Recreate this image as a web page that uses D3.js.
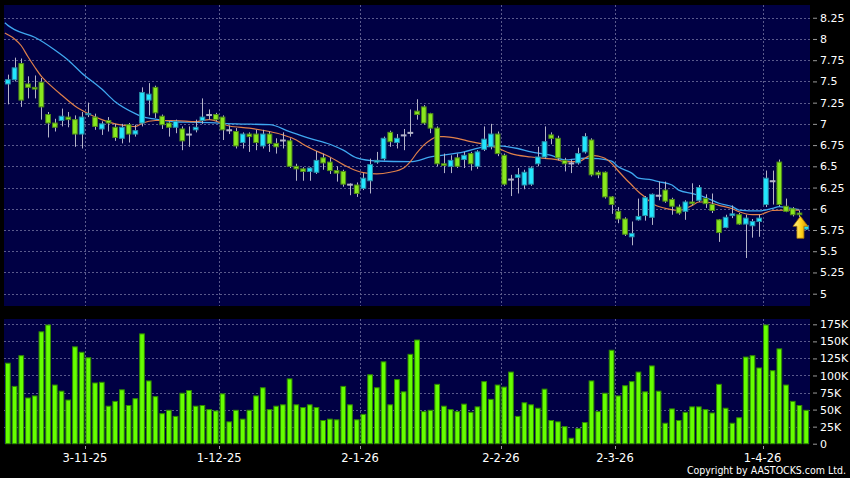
<!DOCTYPE html>
<html>
<head>
<meta charset="utf-8">
<script src="https://cdn.jsdelivr.net/npm/d3@7/dist/d3.min.js"></script>
<style>
  body { margin: 0; background: #000; }
  svg { display: block; font-family: "DejaVu Sans", sans-serif; }
</style>
</head>
<body>
<svg id="chart" width="850" height="478"></svg>
<script>
// daily candles, oldest first
const opens = [7.47,7.52,7.71,7.47,7.43,7.49,7.11,7.01,7.04,7.08,7.05,6.88,7.11,7.08,6.94,7.04,6.96,6.83,6.99,6.88,
  7.01,7.28,7.43,7.09,7.01,6.96,6.94,6.88,6.93,7.04,7.11,7.11,7.08,6.93,6.91,6.78,6.88,6.88,6.74,6.88,
  6.77,6.81,6.80,6.50,6.47,6.44,6.43,6.60,6.55,6.45,6.44,6.29,6.28,6.24,6.33,6.55,6.59,6.90,6.78,6.87,
  6.90,7.15,7.20,7.12,6.95,6.53,6.50,6.60,6.58,6.65,6.50,6.70,6.73,6.88,6.63,6.35,6.37,6.28,6.29,6.53,
  6.61,6.87,6.83,6.57,6.54,6.54,6.67,6.81,6.43,6.43,6.14,5.97,5.88,5.67,5.87,5.92,5.90,6.16,6.22,6.11,
  6.02,5.97,6.08,6.10,6.12,6.05,5.87,5.78,5.92,5.93,5.82,5.80,5.85,6.05,6.33,6.55,6.03,6.00,5.95,5.76];
const highs = [7.58,7.78,7.77,7.56,7.57,7.54,7.14,7.06,7.18,7.14,7.10,7.14,7.25,7.12,7.03,7.08,7.00,7.00,7.01,6.99,
  7.43,7.48,7.45,7.11,7.03,7.05,6.97,6.97,7.05,7.30,7.17,7.13,7.10,6.98,6.95,6.90,6.90,6.93,6.93,6.91,
  6.83,6.90,6.83,6.53,6.49,6.49,6.68,6.65,6.60,6.50,6.46,6.30,6.31,6.42,6.59,6.67,6.85,6.92,6.88,6.94,
  7.17,7.29,7.22,7.13,6.97,6.65,6.63,6.65,6.67,6.67,6.69,6.97,7.00,6.91,6.65,6.40,6.48,6.46,6.50,6.73,
  6.97,6.90,6.86,6.60,6.58,6.72,6.89,6.83,6.45,6.44,6.15,6.02,5.90,5.85,6.12,6.15,6.18,6.32,6.32,6.13,
  6.05,6.10,6.30,6.28,6.17,6.18,5.88,5.93,6.04,5.95,5.93,5.88,5.93,6.45,6.45,6.58,6.12,6.02,5.98,5.82];
const lows = [7.23,7.50,7.20,7.30,7.30,7.05,6.84,6.91,6.97,6.96,6.73,6.71,7.08,6.93,6.87,6.91,6.80,6.77,6.78,6.85,
  6.97,7.10,7.07,6.94,6.85,6.89,6.69,6.73,6.90,7.00,7.05,7.03,6.81,6.88,6.71,6.71,6.67,6.69,6.71,6.67,
  6.65,6.71,6.48,6.33,6.33,6.33,6.41,6.46,6.41,6.32,6.26,6.16,6.14,6.22,6.18,6.53,6.57,6.73,6.71,6.69,
  6.85,7.05,6.99,6.89,6.50,6.42,6.42,6.48,6.48,6.45,6.47,6.68,6.70,6.62,6.27,6.15,6.18,6.23,6.27,6.50,
  6.59,6.76,6.57,6.44,6.42,6.52,6.65,6.38,6.36,6.12,5.94,5.83,5.68,5.57,5.86,5.86,5.81,6.10,6.07,5.93,
  5.93,5.87,6.04,6.08,6.01,5.95,5.61,5.77,5.89,5.81,5.42,5.66,5.67,6.02,6.05,6.03,5.96,5.91,5.90,5.75];
const closes = [7.52,7.66,7.28,7.43,7.41,7.20,7.01,6.96,7.09,7.05,6.88,7.08,7.12,6.97,7.00,7.01,6.84,6.96,6.88,6.92,
  7.37,7.35,7.13,6.99,6.96,7.03,6.80,6.88,6.96,7.08,7.11,7.05,6.93,6.93,6.74,6.88,6.85,6.78,6.88,6.77,
  6.73,6.81,6.50,6.47,6.44,6.48,6.57,6.54,6.45,6.42,6.29,6.29,6.18,6.36,6.52,6.57,6.83,6.79,6.83,6.87,
  6.90,7.11,7.01,6.95,6.53,6.51,6.57,6.50,6.63,6.53,6.67,6.82,6.88,6.65,6.29,6.35,6.40,6.43,6.48,6.61,
  6.79,6.83,6.60,6.53,6.54,6.65,6.85,6.40,6.40,6.14,6.05,5.88,5.70,5.71,5.91,6.13,6.17,6.16,6.09,6.03,
  5.95,6.08,6.06,6.25,6.06,5.98,5.72,5.90,5.94,5.82,5.89,5.85,5.89,6.36,6.33,6.05,5.97,5.93,5.93,5.80];
// volume in thousands of shares
const volumes = [118,84,129,67,70,164,174,86,77,64,142,134,126,89,90,55,62,79,56,66,
  161,92,69,44,49,40,74,78,55,56,50,48,73,32,49,36,49,70,82,50,
  55,57,95,57,53,57,53,34,36,35,84,57,35,43,101,82,120,57,94,76,
  131,152,47,49,87,55,50,47,58,46,54,91,65,86,83,105,40,60,57,52,
  80,34,32,25,8,22,31,92,47,74,137,70,85,91,105,76,114,77,30,51,
  34,46,54,54,50,45,87,52,30,38,127,129,111,174,107,139,86,62,56,49];
// moving averages: [bar index, value]
const maShort = [[-0.45,8.07],[0,8.05],[1,8.00],[2,7.92],[3,7.79],[4,7.67],[5,7.56],[6,7.48],[8,7.34],[10,7.21],[12,7.12],
  [14,7.05],[16,7.00],[18,6.975],[19,6.967],[20,7.007],[22,7.04],[25,7.04],[28,7.026],[30,7.05],[33,6.975],
  [36,6.95],[39,6.91],[41,6.87],[43,6.81],[44,6.76],[46,6.68],[48,6.61],[50,6.52],[51,6.48],[53,6.425],
  [55,6.41],[57,6.43],[59,6.48],[60,6.555],[61,6.66],[62,6.75],[63,6.81],[64,6.85],[65,6.85],[67,6.83],
  [69,6.79],[71,6.76],[73,6.715],[75,6.65],[78,6.61],[82,6.575],[83,6.555],[85,6.555],[87,6.63],[88,6.62],
  [89,6.595],[90,6.535],[91,6.445],[92,6.36],[93,6.28],[94,6.20],[95,6.135],[96,6.065],[98,6.005],[100,5.98],
  [102,6.04],[103,6.08],[104,6.08],[106,6.04],[108,6.0],[109,5.965],[111,5.93],[112,5.93],[113,5.955],[114,5.98],
  [116,5.985],[118,5.985]];
const maLong = [[-0.45,8.19],[0,8.16],[1,8.11],[4,8.02],[7,7.87],[9,7.75],[11,7.60],[14,7.41],[16,7.26],[19,7.12],[20,7.085],
  [22,7.055],[25,7.025],[27,7.02],[30,7.014],[34,7.0],[39,6.99],[42,6.91],[45,6.83],[48,6.76],[50,6.69],
  [52,6.60],[55,6.563],[60,6.555],[63,6.61],[68,6.67],[71,6.73],[73,6.74],[76,6.71],[78,6.67],[81,6.63],
  [83,6.575],[86,6.595],[88,6.59],[90,6.56],[91,6.495],[93,6.42],[94,6.36],[96,6.34],[97,6.32],[99,6.28],
  [100,6.22],[102,6.18],[103,6.16],[105,6.10],[106,6.065],[108,6.025],[109,5.985],[112,5.975],[114,6.005],[115,6.025],
  [116,6.014],[118,5.99]];
const dateTicks = [[11,"3-11-25"],[31,"1-12-25"],[52,"2-1-26"],[73,"2-2-26"],[90,"2-3-26"],[112,"1-4-26"]];
const priceTicks = [5,5.25,5.5,5.75,6,6.25,6.5,6.75,7,7.25,7.5,7.75,8,8.25];
const volumeTicks = [0,25,50,75,100,125,150,175];

const svg = d3.select('#chart');
const plotLeft = 4, plotRight = 810;
const pricePane = { top: 5, bottom: 306 };
const volPane = { top: 319, bottom: 444 };
const n = closes.length;

const x = d3.scaleBand().domain(d3.range(n)).range([plotLeft, plotRight]).padding(0.15);
const cx = i => x(0) + x.bandwidth() / 2 + i * x.step();
const edge = i => cx(i) + x.step() / 2;
const y = d3.scaleLinear().domain([4.855, 8.40]).range([pricePane.bottom, pricePane.top]);
const yv = d3.scaleLinear().domain([0, 182.8]).range([443.7, volPane.top]);

svg.append('rect').attr('width', 850).attr('height', 478).attr('fill', '#000');

[pricePane, volPane].forEach(p => {
  svg.append('rect')
    .attr('x', plotLeft).attr('y', p.top)
    .attr('width', plotRight - plotLeft).attr('height', p.bottom - p.top)
    .attr('fill', '#000044');
});

// grid
const grid = svg.append('g').attr('stroke', '#5a5a8c').attr('stroke-dasharray', '2,2').attr('stroke-width', 1);
grid.selectAll('.hp').data(priceTicks).enter().append('line')
  .attr('x1', plotLeft).attr('x2', plotRight)
  .attr('y1', d => Math.round(y(d)) + 0.5).attr('y2', d => Math.round(y(d)) + 0.5);
grid.selectAll('.hv').data(volumeTicks.filter(d => d > 0)).enter().append('line')
  .attr('x1', plotLeft).attr('x2', plotRight)
  .attr('y1', d => Math.round(yv(d)) + 0.5).attr('y2', d => Math.round(yv(d)) + 0.5);
[pricePane, volPane].forEach(p => {
  grid.selectAll(null).data(dateTicks).enter().append('line')
    .attr('x1', d => Math.round(edge(d[0])) + 0.5).attr('x2', d => Math.round(edge(d[0])) + 0.5)
    .attr('y1', p.top).attr('y2', p.bottom);
});

// volume bars
svg.append('g').selectAll('rect').data(volumes).enter().append('rect')
  .attr('x', (d, i) => x(i) + 0.5)
  .attr('y', d => yv(d))
  .attr('width', x.bandwidth() - 1)
  .attr('height', d => yv(0) - yv(d))
  .attr('fill', '#66ff00')
  .attr('stroke', '#2f8a00')
  .attr('stroke-width', 1);

// moving averages
const line = d3.line().x(d => cx(d[0])).y(d => y(d[1])).curve(d3.curveMonotoneX);
svg.append('path').datum(maLong).attr('d', line)
  .attr('fill', 'none').attr('stroke', '#3fa8f0').attr('stroke-width', 1.3);
svg.append('path').datum(maShort).attr('d', line)
  .attr('fill', 'none').attr('stroke', '#e0804a').attr('stroke-width', 1.2);

// candles
const candles = svg.append('g');
const idx = d3.range(n);
candles.selectAll('.wick').data(idx).enter().append('line')
  .attr('x1', i => Math.round(cx(i)) + 0.5).attr('x2', i => Math.round(cx(i)) + 0.5)
  .attr('y1', i => y(highs[i])).attr('y2', i => y(lows[i]))
  .attr('stroke', '#b4b4c8').attr('stroke-width', 1);
candles.selectAll('.body').data(idx).enter().append('rect')
  .attr('x', i => x(i) + 0.5)
  .attr('y', i => y(Math.max(opens[i], closes[i])))
  .attr('width', x.bandwidth() - 1)
  .attr('height', i => Math.max(1, Math.abs(y(opens[i]) - y(closes[i]))))
  .attr('fill', i => closes[i] > opens[i] ? '#22e6ff' : closes[i] < opens[i] ? '#88e81e' : '#b4b4c8')
  .attr('stroke', i => closes[i] > opens[i] ? '#2a8fa8' : closes[i] < opens[i] ? '#4f8a18' : '#b4b4c8')
  .attr('stroke-width', 1);

// last-price arrow
const defs = svg.append('defs');
const grad = defs.append('linearGradient').attr('id', 'gold').attr('x1', 0).attr('x2', 1);
grad.append('stop').attr('offset', '0%').attr('stop-color', '#fff6a0');
grad.append('stop').attr('offset', '55%').attr('stop-color', '#ffd21a');
grad.append('stop').attr('offset', '100%').attr('stop-color', '#d89000');
const ai = n - 2;
const ax = cx(ai) + 1, ay = y(lows[ai]) - 1;
svg.append('path')
  .attr('d', `M${ax},${ay} L${ax + 7.5},${ay + 10} L${ax + 3.5},${ay + 10} L${ax + 3.5},${ay + 22} L${ax - 3.5},${ay + 22} L${ax - 3.5},${ay + 10} L${ax - 7.5},${ay + 10} Z`)
  .attr('fill', 'url(#gold)').attr('stroke', '#a87400').attr('stroke-width', 0.8);

// right axes
const styleAxis = g => g
  .call(g => g.select('.domain').remove())
  .call(g => g.selectAll('line').attr('stroke', '#9a9a9a'))
  .call(g => g.selectAll('text').attr('fill', '#fff').attr('font-size', 11).attr('font-family', 'DejaVu Sans'));

const priceAxis = d3.axisRight(y).tickValues(priceTicks).tickSize(4).tickPadding(3).tickFormat(d => String(d));
svg.append('g').attr('transform', `translate(${plotRight + 3},0)`).call(priceAxis).call(styleAxis);

const volAxis = d3.axisRight(yv).tickValues(volumeTicks).tickSize(4).tickPadding(3)
  .tickFormat(d => d === 0 ? '0' : d + 'K');
svg.append('g').attr('transform', `translate(${plotRight + 3},0)`).call(volAxis).call(styleAxis);

// date axis
const xAxis = svg.append('g');
xAxis.selectAll('line').data(dateTicks).enter().append('line')
  .attr('x1', d => Math.round(edge(d[0])) + 0.5).attr('x2', d => Math.round(edge(d[0])) + 0.5)
  .attr('y1', volPane.bottom + 2).attr('y2', volPane.bottom + 5)
  .attr('stroke', '#9a9a9a');
xAxis.selectAll('text').data(dateTicks).enter().append('text')
  .attr('x', d => edge(d[0]))
  .attr('y', 462)
  .attr('text-anchor', 'middle')
  .attr('fill', '#fff')
  .attr('font-size', 11.5)
  .text(d => d[1]);

svg.append('text')
  .attr('x', 846).attr('y', 474)
  .attr('text-anchor', 'end')
  .attr('fill', '#fff')
  .attr('font-size', 10.5)
  .attr('font-family', 'DejaVu Sans Condensed, DejaVu Sans')
  .text('Copyright by AASTOCKS.com Ltd.');
</script>
</body>
</html>
